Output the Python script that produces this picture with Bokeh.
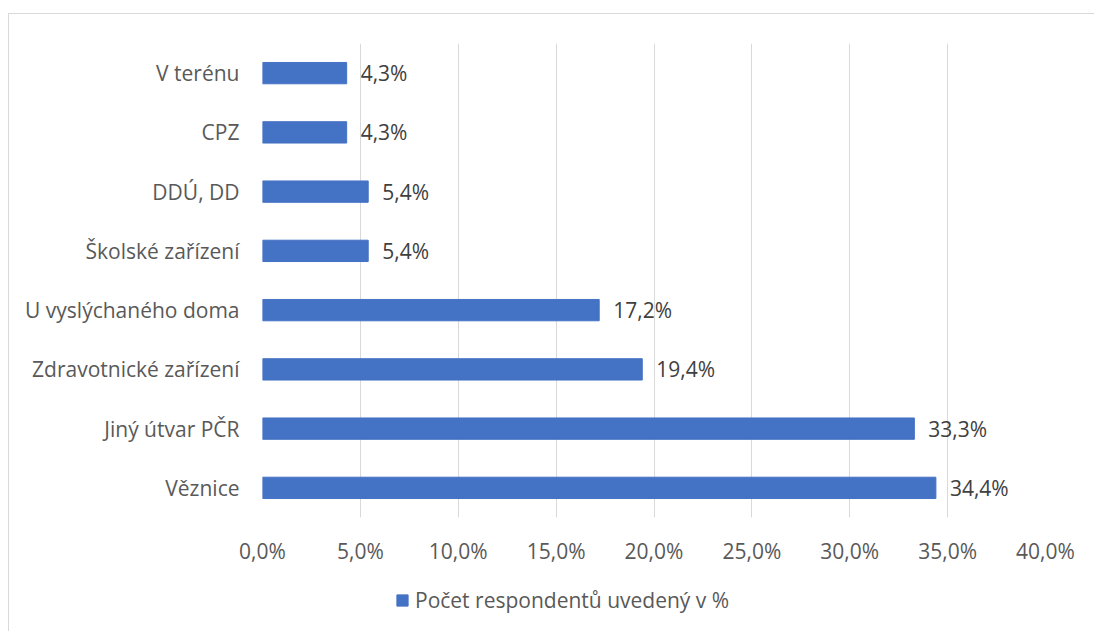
from bokeh.plotting import figure
from bokeh.layouts import column
from bokeh.models import ColumnDataSource, FactorRange, Range1d, FixedTicker, CustomJSTickFormatter, LabelSet, Legend, LegendItem
from bokeh.core.properties import value
from bokeh.embed import file_html
from bokeh.resources import INLINE

categories = ["Věznice", "Jiný útvar PČR", "Zdravotnické zařízení", "U vyslýchaného doma",
              "Školské zařízení", "DDÚ, DD", "CPZ", "V terénu"]
values = [34.4, 33.3, 19.4, 17.2, 5.4, 5.4, 4.3, 4.3]
labels = ["34,4%", "33,3%", "19,4%", "17,2%", "5,4%", "5,4%", "4,3%", "4,3%"]
x_ticks = [0, 5, 10, 15, 20, 25, 30, 35, 40]
series_name = "Počet respondentů uvedený v %"

FONT = "Open Sans"
FS = "21px"
BAR = "#4472C4"
W = 1085

src = ColumnDataSource(dict(cat=categories, val=values, lab=labels))

p = figure(width=W, height=560, output_backend="svg", toolbar_location=None,
           y_range=FactorRange(factors=categories, range_padding=0),
           x_range=Range1d(0, 40),
           min_border_left=253, min_border_right=W - 1036, min_border_top=29, min_border_bottom=57)
p.outline_line_color = None

p.hbar(y="cat", right="val", left=0, height=0.36, source=src, color=BAR)

p.xgrid.grid_line_color = "#d9d9d9"
p.xgrid.ticker = FixedTicker(ticks=x_ticks)
p.ygrid.grid_line_color = None

p.xaxis.ticker = FixedTicker(ticks=x_ticks)
p.xaxis.formatter = CustomJSTickFormatter(code="return tick.toFixed(1).replace('.', ',') + '%';")
for ax in (p.xaxis, p.yaxis):
    ax.axis_line_color = None
    ax.major_tick_line_color = None
    ax.minor_tick_line_color = None
    ax.major_label_text_font = FONT
    ax.major_label_text_font_size = FS
    ax.major_label_text_color = "#595959"
p.xaxis.major_label_standoff = 13
p.yaxis.major_label_standoff = 17

lbl = LabelSet(x="val", y="cat", text="lab", source=src, x_offset=14, text_baseline="middle",
               text_align="left", text_font=value(FONT), text_font_size=FS, text_color="#404040")
p.add_layout(lbl)

# legend strip below the chart
p2 = figure(width=W, height=57, output_backend="svg", toolbar_location=None,
            x_range=Range1d(0, 1), y_range=Range1d(0, 1),
            min_border_left=0, min_border_right=0, min_border_top=0, min_border_bottom=0)
p2.axis.visible = False
p2.grid.visible = False
p2.outline_line_color = None
r2 = p2.hbar(y=[-10], right=[1], left=0, height=0.5, color=BAR)
legend = Legend(items=[LegendItem(label=series_name, renderers=[r2])], location=(133, 17),
                padding=0, margin=0, label_standoff=6, glyph_width=14, glyph_height=14,
                label_text_font=FONT, label_text_font_size=FS, label_text_color="#595959",
                border_line_color=None, background_fill_alpha=0)
p2.add_layout(legend)

layout = column(p, p2, spacing=0,
                styles={"border-top": "1px solid #d9d9d9", "border-left": "1px solid #d9d9d9",
                        "margin-left": "8px", "margin-top": "13px"})

open("out.html", "w").write(file_html(layout, INLINE))
